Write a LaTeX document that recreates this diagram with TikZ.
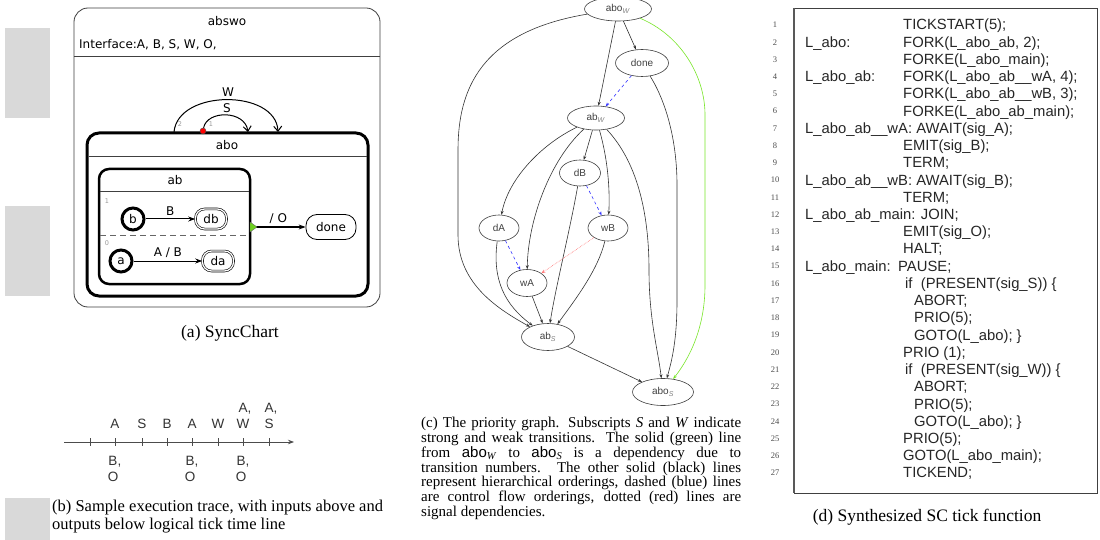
\documentclass[tikz,border=0pt]{standalone}
\usepackage{fontspec}
\setmainfont{Liberation Serif}
\newfontfamily\dejavu{DejaVu Sans}
\newfontfamily\helv{Liberation Sans}
\usetikzlibrary{arrows.meta,shapes.geometric}
\definecolor{lgreen}{RGB}{110,210,30}
\definecolor{ggreen}{RGB}{120,230,40}
\newcommand{\cln}[3]{\node[code, anchor=base west] (c#1) at (#2,{30+(#1-1)*17.23}) {#3};}
\newcommand{\lbl}[3]{\node[code, anchor=base west] (l#1) at (#2,{30+(#1-1)*17.23}) {#3};}
\begin{document}
\begin{tikzpicture}[x=1pt,y=-1pt,
  sc/.style={font=\dejavu\fontsize{12}{12}\selectfont},
  small/.style={font=\dejavu\fontsize{6.5}{6.5}\selectfont, text=black!40, inner sep=0},
  trans/.style={line width=1pt, -{Stealth[length=7pt,width=5pt]}},
  loopt/.style={line width=1pt, -{Straight Barb[length=5pt,width=8pt]}},
  gnode/.style={draw=black!75, line width=0.6pt, ellipse, inner sep=0pt, font=\helv\fontsize{10}{10}\selectfont, text=black!75},
  edge/.style={draw=black!80, line width=0.6pt, -{Stealth[length=4pt,width=3pt]}},
  cf/.style={edge, draw=blue!80, dashed},
  sig/.style={edge, draw=red!55, densely dotted},
  tr/.style={font=\helv\fontsize{13.5}{13.5}\selectfont, text=black!80, inner sep=0},
  code/.style={font=\helv\fontsize{14.8}{14.8}\selectfont, inner sep=0, text=black!85},
  lnum/.style={font=\fontsize{8.5}{8.5}\selectfont, text=black!70, inner sep=0},
  capt/.style={font=\fontsize{17.5}{17.5}\selectfont, inner sep=0},
  captb/.style={font=\fontsize{16.5}{16.5}\selectfont, inner sep=0},
  captc/.style={font=\fontsize{15}{14.8}\selectfont, inner sep=0}
]
\useasboundingbox (0,0) rectangle (1100,540);
\fill[white] (0,0) rectangle (1100,540);
% gray margin boxes
\fill[black!15] (5,28) rectangle (50,118);
\fill[black!15] (5,206) rectangle (50,296);
\fill[black!15] (5,498) rectangle (50,540);

% ---------- (a) SyncChart ----------
\draw[black!75, line width=0.8pt, rounded corners=14pt] (74,8) rectangle (380,307);
\draw[black!75, line width=0.8pt] (74,56) -- (380,56);
\node[sc] (tabswo) at (227,21) {abswo};
\node[sc, anchor=west, inner sep=0] (tif) at (79,45) {Interface:A, B, S, W, O,};
\draw[line width=3pt, rounded corners=12pt] (87,133) rectangle (368,296);
\draw[line width=0.8pt, black!75] (88.5,156) -- (366.5,156);
\node[sc] (tabo) at (227,145) {abo};
\draw[line width=2.5pt, rounded corners=10pt] (99,169) rectangle (250,284);
\draw[line width=0.8pt, black!75] (100,191) -- (249,191);
\node[sc] (tab) at (175,180) {ab};
\node[small] (r1) at (107,201) {1};
\draw[black!60, dash pattern=on 6pt off 4pt, line width=0.8pt] (100,235) -- (249,235);
\node[small] (r0) at (107,243) {0};
\node[sc, draw, circle, line width=3pt, minimum size=22pt, inner sep=0] (b) at (133,219) {b};
\node[sc, draw, double, double distance=1.3pt, line width=0.6pt, rounded corners=9pt, minimum width=31pt, minimum height=20pt, inner sep=0] (db) at (211,219) {db};
\node[sc, draw, circle, line width=3pt, minimum size=22pt, inner sep=0] (a) at (121,261) {a};
\node[sc, draw, double, double distance=1.3pt, line width=0.6pt, rounded corners=9pt, minimum width=31pt, minimum height=20pt, inner sep=0] (da) at (218,261) {da};
\draw[trans] (b) -- (db) node[sc, midway, above=0pt] (lB) {B};
\draw[trans] (a) -- (da) node[sc, midway, above=0pt] (lAB) {A / B};
\node[sc, draw, line width=0.8pt, rounded corners=11pt, minimum width=50pt, minimum height=25pt, inner sep=0] (done) at (331,227) {done};
\coordinate (abx) at (251,227);
\draw[trans] (abx) -- (done) node[sc, midway, above=0pt] (lO) {/ O};
\filldraw[fill=lgreen, draw=black!60, line width=0.4pt] (250,222) -- (257,227) -- (250,232) -- cycle;
\coordinate (ws) at (174,132);
\coordinate (we) at (278,132);
\draw[loopt] (ws) .. controls (178,89) and (276,89) .. (we);
\node[sc] (lW) at (228,92) {W};
\node[circle, fill=red, draw=black!70, line width=0.4pt, inner sep=0, minimum size=6pt] (rdot) at (203,131) {};
\coordinate (se) at (248,132);
\draw[loopt] (rdot) .. controls (207,110) and (245,110) .. (se);
\node[sc] (lS) at (227,108) {S};
\node[small] (n2) at (180,124) {2};
\node[small] (n1) at (211,124) {1};
\node[capt] (capa) at (230,333) {(a) SyncChart};

% ---------- (b) trace ----------
\coordinate (t0) at (64,442);
\coordinate (t1) at (294,442);
\draw[black!70, line width=0.8pt, -{Stealth[length=6pt,width=4.5pt]}] (t0) -- (t1);
\foreach \x in {90,115,142,167,192,218,243,269} \draw[black!70, line width=0.8pt] (\x,438) -- (\x,446);
\node[tr] (iA1) at (115,424) {A};
\node[tr] (iS1) at (142,424) {S};
\node[tr] (iB1) at (167,424) {B};
\node[tr] (iA2) at (192,424) {A};
\node[tr] (iW1) at (218,424) {W};
\node[tr] (iW2) at (243,424) {W};
\node[tr] (iA3) at (243,409) {A\rlap{,}};
\node[tr] (iS2) at (269,424) {S};
\node[tr] (iA4) at (269,409) {A\rlap{,}};
\node[tr] (oB1) at (113,462) {B\rlap{,}};
\node[tr] (oO1) at (113,477) {O};
\node[tr] (oB2) at (190,462) {B\rlap{,}};
\node[tr] (oO2) at (190,477) {O};
\node[tr] (oB3) at (241,462) {B\rlap{,}};
\node[tr] (oO3) at (241,477) {O};
\node[captb, anchor=west] (capb1) at (52,508) {(b) Sample execution trace, with inputs above and};
\node[captb, anchor=west] (capb2) at (52,526) {outputs below logical tick time line};

% ---------- (c) priority graph ----------
\node[gnode, minimum width=67pt, minimum height=24pt] (aboW) at (618,9) {abo\textsubscript{\textcolor{black!50}{\textit{W}}}};
\node[gnode, minimum width=53pt, minimum height=27pt] (gdone) at (642,63) {done};
\node[gnode, minimum width=57pt, minimum height=24pt] (abW) at (596,118) {ab\textsubscript{\textcolor{black!50}{\textit{W}}}};
\node[gnode, minimum width=41pt, minimum height=26pt] (dB) at (580,173) {dB};
\node[gnode, minimum width=40pt, minimum height=26pt] (dA) at (499,228) {dA};
\node[gnode, minimum width=40pt, minimum height=26pt] (wB) at (608,228) {wB};
\node[gnode, minimum width=40pt, minimum height=27pt] (wA) at (527,283) {wA};
\node[gnode, minimum width=53pt, minimum height=27pt] (abS) at (548,337) {ab\textsubscript{\textcolor{black!50}{\textit{S}}}};
\node[gnode, minimum width=61pt, minimum height=27pt] (aboS) at (663,392) {abo\textsubscript{\textcolor{black!50}{\textit{S}}}};
\draw[edge] (aboW) -- (gdone);
\draw[edge] (aboW) -- (abW);
\draw[edge] (aboW) .. controls (480,32) and (458,90) .. (458,150) -- (458,235) .. controls (458,285) and (500,310) .. (abS);
\draw[edge, draw=ggreen] (aboW) .. controls (680,35) and (705,75) .. (705,115) -- (705,285) .. controls (705,330) and (688,360) .. (aboS);
\draw[edge] (gdone) .. controls (668,105) and (677,145) .. (677,185) -- (677,300) .. controls (677,340) and (672,360) .. (aboS);
\draw[cf] (gdone) -- (abW);
\draw[edge] (abW) .. controls (540,145) and (508,180) .. (dA);
\draw[edge] (abW) .. controls (550,160) and (528,220) .. (wA);
\draw[edge] (abW) -- (dB);
\draw[edge] (abW) .. controls (608,160) and (610,190) .. (wB);
\draw[edge] (abW) .. controls (640,165) and (649,220) .. (649,270) .. controls (649,320) and (658,350) .. (aboS);
\draw[cf] (dB) -- (wB);
\draw[edge] (dB) .. controls (570,230) and (555,290) .. (abS);
\draw[cf] (dA) -- (wA);
\draw[edge] (dA) .. controls (492,280) and (505,305) .. (abS);
\draw[sig] (wB) -- (wA);
\draw[edge] (wB) .. controls (598,270) and (575,300) .. (abS);
\draw[edge] (wA) -- (abS);
\draw[edge] (abS) -- (aboS);
\node[captc, anchor=north west, text width=320pt, align=justify] (capc) at (421,417) {(c) The priority graph. Subscripts \textit{S} and \textit{W} indicate\linebreak
strong and weak transitions. The solid (green) line\linebreak
from {\helv abo}\textsubscript{\textit{W}} to {\helv abo}\textsubscript{\textit{S}} is a dependency due to\linebreak
transition numbers. The other solid (black) lines\linebreak
represent hierarchical orderings, dashed (blue) lines\linebreak
are control flow orderings, dotted (red) lines are\linebreak
signal dependencies.};

% ---------- (d) code ----------
\draw[black!75, line width=0.8pt] (794,8) rectangle (1097,493);
\draw[black!65, line width=1.8pt] (794,8) -- (794,493);
\foreach \i in {1,...,27} \node[lnum] (ln\i) at (775,{25+(\i-1)*17.23}) {\i};
\lbl{2}{805}{L\_abo:}
\lbl{4}{805}{L\_abo\_ab:}
\lbl{15}{805}{L\_abo\_main:}
\cln{1}{903}{TICKSTART(5);}
\cln{2}{903}{FORK(L\_abo\_ab, 2);}
\cln{3}{903}{FORKE(L\_abo\_main);}
\cln{4}{903}{FORK(L\_abo\_ab\_\_wA, 4);}
\cln{5}{903}{FORK(L\_abo\_ab\_\_wB, 3);}
\cln{6}{903}{FORKE(L\_abo\_ab\_main);}
\cln{7}{805}{L\_abo\_ab\_\_wA: AWAIT(sig\_A);}
\cln{8}{903}{EMIT(sig\_B);}
\cln{9}{903}{TERM;}
\cln{10}{805}{L\_abo\_ab\_\_wB: AWAIT(sig\_B);}
\cln{11}{903}{TERM;}
\cln{12}{805}{L\_abo\_ab\_main: JOIN;}
\cln{13}{903}{EMIT(sig\_O);}
\cln{14}{903}{HALT;}
\cln{15}{898}{PAUSE;}
\cln{16}{905}{if\ \ (PRESENT(sig\_S))~\{}
\cln{17}{914}{ABORT;}
\cln{18}{914}{PRIO(5);}
\cln{19}{914}{GOTO(L\_abo);~\}}
\cln{20}{903}{PRIO (1);}
\cln{21}{905}{if\ \ (PRESENT(sig\_W))~\{}
\cln{22}{914}{ABORT;}
\cln{23}{914}{PRIO(5);}
\cln{24}{914}{GOTO(L\_abo);~\}}
\cln{25}{903}{PRIO(5);}
\cln{26}{903}{GOTO(L\_abo\_main);}
\cln{27}{903}{TICKEND;}
\node[capt] (capd) at (927,517) {(d) Synthesized SC tick function};
\end{tikzpicture}
\end{document}
